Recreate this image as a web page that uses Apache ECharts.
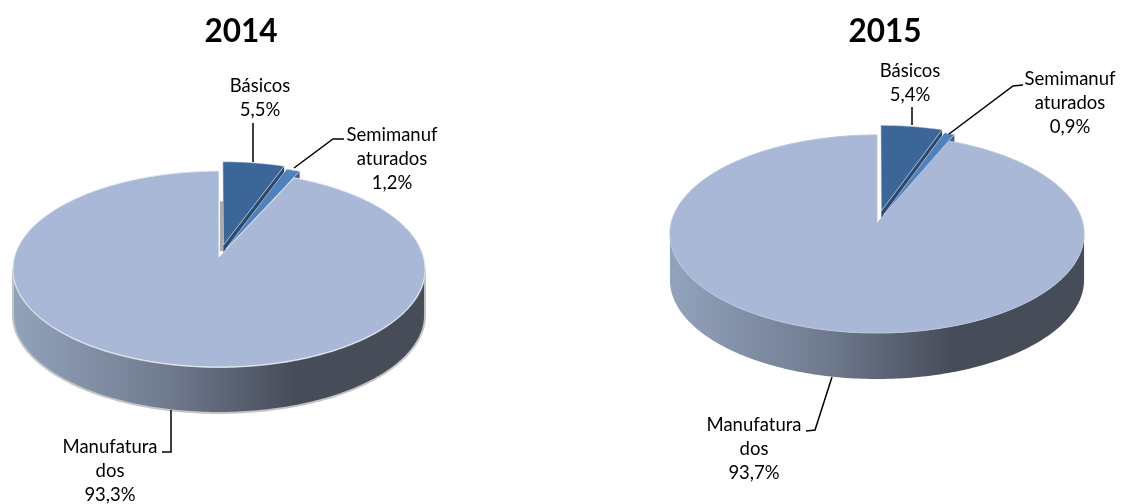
<!DOCTYPE html>
<html><head><meta charset="utf-8">
<style>html,body{margin:0;padding:0;background:#fff}#c{width:1121px;height:504px}</style>
<script src="https://cdn.jsdelivr.net/npm/echarts@6/dist/echarts.min.js"></script>
</head><body><div id="c"></div>
<script>
// ---- data ----
const categories = ['Básicos', 'Semimanufaturados', 'Manufaturados'];
const labelLines = [['Básicos'], ['Semimanuf', 'aturados'], ['Manufatura', 'dos']];
const years = ['2014', '2015'];
const values2014 = [5.5, 1.2, 93.3];
const values2015 = [5.4, 0.9, 93.7];

// ---- styles and layout ----
const FONT = 'Lato, "Noto Sans", sans-serif';
const topColors = ['#3c6698', '#4f81bd', '#a9b8d6'];
const cutColors = ['#2c4a70', '#3a6291', null];
const explode = [0.125, 0.09, 0];
const wallStops = [
  {offset: 0, color: '#93a3bc'}, {offset: 0.38, color: '#6f7a8e'},
  {offset: 0.68, color: '#474c59'}, {offset: 1, color: '#474c59'}
];
const layouts = [
  {titleX: 236, cx: 219, apexY: 257, A: 204.5, B: 96.5, k: 0.1224, depth: 46,
   rim: '#c4c4c4', topStroke: '#e6ecf6', cutShade: true,
   labels: [[260, 98], [392, 159], [110, 471]],
   leaders: [[[253,123],[253,162]], [[344,139],[333,139],[294,168]], [[171,410],[171,452],[162,452]]]},
  {titleX: 880, cx: 877, apexY: 223, A: 205.8, B: 97.8, k: 0.111, depth: 46,
   rim: null, topStroke: '#b9c6df', cutShade: false,
   labels: [[910, 83], [1070, 103], [754, 449]],
   leaders: [[[912,107],[912,125]], [[1023,85],[1013,86],[949,134]], [[832,377],[815,430],[806,431]]]}
];

const pct = v => v.toFixed(1).replace('.', ',') + '%';

function projector(L, e, mid) {
  const du = e * Math.sin(mid), dv = e * Math.cos(mid);
  return function (theta, r, drop) {
    const u = du + r * Math.sin(theta), v = dv + r * Math.cos(theta), w = 1 + L.k * v;
    return [L.cx + L.A * u / w, L.apexY - L.B * v / w + (drop || 0)];
  };
}
function arc(P, a0, a1, drop) {
  const n = Math.max(4, Math.ceil((a1 - a0) * 60)), out = [];
  for (let i = 0; i <= n; i++) out.push(P(a0 + (a1 - a0) * i / n, 1, drop));
  return out;
}

function makeSeries(values, L) {
  const total = values.reduce((a, b) => a + b, 0);
  const TAU = Math.PI * 2;
  return {
    type: 'custom', coordinateSystem: 'none', silent: true, animation: false,
    data: values.map(v => [v]),
    renderItem: function (params, api) {
      const i = params.dataIndex;
      let before = 0;
      for (let j = 0; j < i; j++) before += values[j];
      const a0 = before / total * TAU;
      const a1 = (before + api.value(0)) / total * TAU;
      const P = projector(L, explode[i], (a0 + a1) / 2);
      const kids = [];
      const apex = P(0, 0);

      if (i === 2) {
        // outer wall: the front half of the disc, between the tangent points of the rim
        const t0 = Math.PI - Math.acos(L.k), t1 = Math.PI + Math.acos(L.k);
        const wall = arc(P, t0, t1, 0).concat(arc(P, t0, t1, L.depth).reverse());
        kids.push({type: 'polygon', shape: {points: wall}, style: {
          fill: new echarts.graphic.LinearGradient(0, 0, 1, 0, wallStops),
          stroke: L.rim || 'none', lineWidth: L.rim ? 2 : 0}});
        if (L.cutShade) {
          const p = P(0, 0.62), q = P(0, 0);
          kids.push({type: 'polyline', shape: {points: [[p[0] + 2.5, p[1]], [q[0] + 2.5, q[1] - 6]]},
            style: {stroke: '#ababab', lineWidth: 3, fill: 'none'}});
        }
      } else {
        const rimEnd = P(a1, 1), rimDrop = P(a1, 1, L.depth), apexDrop = P(0, 0, L.depth);
        kids.push({type: 'polygon', shape: {points: [apex, rimEnd, rimDrop, apexDrop]},
          style: {fill: cutColors[i]}});
      }

      kids.push({type: 'polygon', shape: {points: [apex].concat(arc(P, a0, a1, 0))},
        style: {fill: topColors[i], stroke: i === 2 ? L.topStroke : '#dbe3f0',
                lineWidth: i === 2 ? 1 : 0.6, lineJoin: 'miter'}});

      kids.push({type: 'polyline', shape: {points: L.leaders[i]},
        style: {stroke: '#000', lineWidth: 1.5, fill: 'none'}});
      kids.push({type: 'text', style: {
        text: labelLines[i].concat(pct(api.value(0))).join('\n'),
        x: L.labels[i][0], y: L.labels[i][1], align: 'center', verticalAlign: 'middle',
        fill: '#000', font: '18.5px ' + FONT, lineHeight: 24.4}});
      return {type: 'group', children: kids};
    }
  };
}

const chart = echarts.init(document.getElementById('c'), null, {renderer: 'canvas'});
chart.setOption({
  animation: false,
  backgroundColor: '#fff',
  title: years.map((y, i) => ({
    text: y, left: layouts[i].titleX, top: 9, textAlign: 'center',
    textStyle: {fontFamily: FONT, fontWeight: 'bold', fontSize: 31.5, color: '#000', lineHeight: 36}
  })),
  series: [makeSeries(values2014, layouts[0]), makeSeries(values2015, layouts[1])]
});
</script></body></html>
